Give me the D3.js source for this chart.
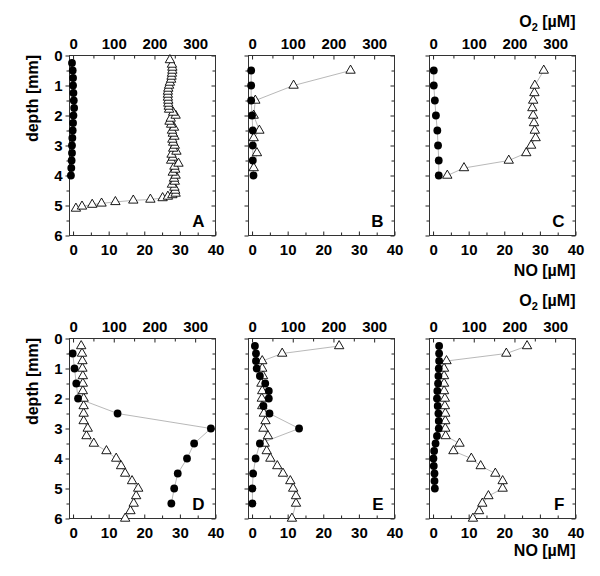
<!DOCTYPE html>
<html>
<head>
<meta charset="utf-8">
<script src="https://cdn.jsdelivr.net/npm/d3@7"></script>
<style>
	body { margin: 0; background: #fff; }
	svg text { font-family: "Liberation Sans", Arial, sans-serif; font-weight: bold; fill: #000; }
</style>
</head>
<body>
<svg id="chart" width="600" height="576"></svg>
<script>
// NO (filled circles, bottom axis) and O2 (open triangles, top axis) depth profiles
const depthA_no = [0.25, 0.5, 0.75, 1, 1.25, 1.5, 1.75, 2, 2.25, 2.5, 2.75, 3, 3.25, 3.5, 3.75, 4];
const noA = [-0.3, -0.1, 0, 0, 0.1, 0.2, 0.3, 0.1, 0, -0.1, -0.2, -0.3, -0.3, -0.4, -0.5, -0.6];
const depthA_o2 = [0.15, 0.3, 0.4, 0.5, 0.6, 0.7, 0.8, 0.9, 1.0, 1.1, 1.2, 1.3, 1.4, 1.5, 1.6, 1.7, 1.8, 1.9, 2.0,
	2.1, 2.2, 2.3, 2.4, 2.5, 2.6, 2.7, 2.8, 2.9, 3.0, 3.1, 3.2, 3.3, 3.4, 3.5, 3.6, 3.7, 3.8, 3.9, 4.0,
	4.1, 4.2, 4.3, 4.4, 4.5, 4.6, 4.65, 4.7, 4.75, 4.8, 4.83, 4.88, 4.93, 4.97, 5.03, 5.1];
const o2A = [238, 243, 244, 244, 243, 242, 241, 238, 236, 234, 233, 233, 233, 234, 234, 235, 236, 246, 252,
	240, 237, 241, 248, 243, 245, 249, 244, 246, 250, 246, 254, 242, 245, 241, 259, 249, 251, 245, 252,
	248, 250, 243, 249, 251, 252, 244, 233, 220, 190, 148, 104, 70, 47, 22, 7];

const depthB_no = [0.5, 1, 1.5, 2, 2.5, 3, 3.5, 4];
const noB = [-0.25, -0.25, -0.25, 0, 0.2, 0.2, 0.2, 0.4];
const depthB_o2 = [0.5, 1, 1.5, 2, 2.5, 2.75, 3.25, 3.75];
const o2B = [242, 102, 8, 4, 18, 4, 12, 4];

const depthC_no = [0.5, 1, 1.5, 2, 2.5, 3, 3.5, 4];
const noC = [0.2, 0.2, 0.5, 0.8, 1.2, 1.4, 1.6, 1.6];
const depthC_o2 = [0.5, 1, 1.25, 1.5, 1.75, 2, 2.25, 2.5, 2.75, 3, 3.25, 3.5, 3.75, 4];
const o2C = [272, 250, 249, 246, 244, 246, 248, 250, 252, 241, 229, 186, 76, 35];

const depthD_no = [0.5, 1, 1.5, 2, 2.5, 3, 3.5, 4, 4.5, 5, 5.5];
const noD = [-0.1, 0.4, 0.9, 1.4, 12.5, 38.7, 34.0, 32.0, 29.4, 28.4, 27.6];
const depthD_o2 = [0.25, 0.5, 0.75, 1, 1.25, 1.5, 1.75, 2, 2.25, 2.5, 2.75, 3, 3.25, 3.5, 3.75, 4,
	4.25, 4.5, 4.75, 5, 5.25, 5.5, 5.75, 6];
const o2D = [20, 22, 23, 23, 24, 24, 24, 26, 26, 26, 26, 36, 33, 51, 82, 106, 118, 128, 145, 160, 155, 149, 141, 128];

const depthE_no = [0.25, 0.5, 0.75, 1, 1.25, 1.5, 1.75, 2, 2.25, 2.5, 3, 3.5, 4, 4.5, 5, 5.5];
const noE = [0.8, 1.1, 1.1, 1.3, 2.2, 3.7, 4.7, 4.7, 3.2, 4.9, 13.2, 2.2, 1.0, 0.3, 0.1, 0.1];
const depthE_o2 = [0.25, 0.5, 0.75, 1, 1.25, 1.5, 1.75, 2, 2.25, 2.5, 2.75, 3, 3.25, 3.5, 3.75, 4,
	4.25, 4.5, 4.75, 5, 5.25, 5.5, 6];
const o2E = [214, 74, 25, 25, 27, 23, 25, 24, 25, 29, 33, 28, 39, 31, 36, 45, 62, 76, 94, 101, 108, 108, 98];

const depthF_no = [0.25, 0.5, 0.75, 1, 1.25, 1.5, 1.75, 2, 2.25, 2.5, 2.75, 3, 3.25, 3.5, 3.75, 4,
	4.25, 4.5, 4.75, 5];
const noF = [1.7, 1.7, 1.7, 1.6, 1.5, 1.4, 1.2, 1.1, 1.3, 1.5, 1.6, 1.6, 1.1, 0.7, 0.3, 0.1, 0.2, 0.4, 0.4, 0.5];
const depthF_o2 = [0.25, 0.5, 0.75, 1, 1.25, 1.5, 1.75, 2, 2.25, 2.5, 2.75, 3, 3.25, 3.5, 3.75, 4,
	4.25, 4.5, 4.75, 5, 5.25, 5.5, 5.75, 6];
const o2F = [231, 180, 33, 27, 27, 27, 27, 29, 29, 30, 30, 30, 31, 65, 50, 94, 117, 153, 171, 171, 136, 121, 113, 98];

const noTicks = [0, 10, 20, 30, 40];
const noMinor = [5, 15, 25, 35];
const o2Ticks = [0, 100, 200, 300];
const o2Minor = [50, 150, 250];
const depthTicks = [0, 1, 2, 3, 4, 5, 6];
const depthMinor = [0.5, 1.5, 2.5, 3.5, 4.5, 5.5];

const zip = (ds, vs) => ds.map((d, i) => ({ d: d, v: vs[i] }));

const panels = [
	{ label: "A", col: 0, row: 0, no: zip(depthA_no, noA), o2: zip(depthA_o2, o2A) },
	{ label: "B", col: 1, row: 0, no: zip(depthB_no, noB), o2: zip(depthB_o2, o2B) },
	{ label: "C", col: 2, row: 0, no: zip(depthC_no, noC), o2: zip(depthC_o2, o2C) },
	{ label: "D", col: 0, row: 1, no: zip(depthD_no, noD), o2: zip(depthD_o2, o2D) },
	{ label: "E", col: 1, row: 1, no: zip(depthE_no, noE), o2: zip(depthE_o2, o2E) },
	{ label: "F", col: 2, row: 1, no: zip(depthF_no, noF), o2: zip(depthF_o2, o2F) }
];

const colLeft = [69.5, 248.5, 429.5];
const rowTop = [55.5, 338.5];
const w = 146, h = 180;
const fontSize = 15;

const svg = d3.select("#chart");

const styleAxis = g => {
	g.select(".domain").remove();
	g.attr("font-family", null).attr("font-size", fontSize);
	g.selectAll(".tick line").attr("stroke", "#222");
};

panels.forEach(p => {
	const xNO = d3.scaleLinear().domain([-1, 40]).range([0, w]);
	const xO2 = d3.scaleLinear().domain([-8.75, 350]).range([0, w]);
	const yScale = d3.scaleLinear().domain([0, 6]).range([0, h]);

	const g = svg.append("g")
		.attr("transform", `translate(${colLeft[p.col]}, ${rowTop[p.row]})`);

	// axes
	g.append("g")
		.attr("transform", `translate(0, ${h})`)
		.call(d3.axisBottom(xNO).tickValues(noTicks).tickSize(-4).tickPadding(9))
		.call(styleAxis);
	g.append("g")
		.attr("transform", `translate(0, ${h})`)
		.call(d3.axisBottom(xNO).tickValues(noMinor).tickSize(-3).tickFormat(""))
		.call(styleAxis);
	g.append("g")
		.call(d3.axisTop(xO2).tickValues(o2Ticks).tickSize(-4).tickPadding(7))
		.call(styleAxis);
	g.append("g")
		.call(d3.axisTop(xO2).tickValues(o2Minor).tickSize(-3).tickFormat(""))
		.call(styleAxis);
	const yAxis = d3.axisLeft(yScale).tickValues(depthTicks).tickSize(4).tickPadding(3)
		.tickFormat(p.col > 0 ? "" : d3.format("d"));
	g.append("g").call(yAxis).call(styleAxis);
	g.append("g")
		.call(d3.axisLeft(yScale).tickValues(depthMinor).tickSize(3).tickFormat(""))
		.call(styleAxis);
	g.append("g")
		.attr("transform", `translate(${w}, 0)`)
		.call(d3.axisRight(yScale).tickValues(depthTicks).tickSize(-4).tickFormat(""))
		.call(styleAxis);
	g.append("g")
		.attr("transform", `translate(${w}, 0)`)
		.call(d3.axisRight(yScale).tickValues(depthMinor).tickSize(-3).tickFormat(""))
		.call(styleAxis);

	g.append("rect")
		.attr("width", w)
		.attr("height", h)
		.attr("fill", "none")
		.attr("stroke", "#333")
		.attr("stroke-width", 1);

	// connecting lines
	const lineO2 = d3.line().x(d => xO2(d.v)).y(d => yScale(d.d));
	const lineNO = d3.line().x(d => xNO(d.v)).y(d => yScale(d.d));
	g.append("path")
		.attr("d", lineO2(p.o2))
		.attr("fill", "none")
		.attr("stroke", "#999")
		.attr("stroke-width", 0.7);
	g.append("path")
		.attr("d", lineNO(p.no))
		.attr("fill", "none")
		.attr("stroke", "#999")
		.attr("stroke-width", 0.7);

	// O2 triangles (deepest drawn first), then NO circles on top
	g.append("g")
		.selectAll("path")
		.data(p.o2.slice().reverse())
		.enter()
		.append("path")
		.attr("transform", d => `translate(${xO2(d.v)}, ${yScale(d.d)})`)
		.attr("d", d3.symbol().type(d3.symbolTriangle).size(38))
		.attr("fill", "#fff")
		.attr("stroke", "#000")
		.attr("stroke-width", 0.9);

	g.append("g")
		.selectAll("circle")
		.data(p.no)
		.enter()
		.append("circle")
		.attr("cx", d => xNO(d.v))
		.attr("cy", d => yScale(d.d))
		.attr("r", 3.9)
		.attr("fill", "#000");

	g.append("text")
		.attr("x", w - 11)
		.attr("y", h - 9)
		.attr("text-anchor", "end")
		.attr("font-size", 17)
		.text(p.label);
});

// axis titles
[[27, 276, 98.5], [306, 556, 381.5]].forEach(([o2y, noy, depthy]) => {
	const t = svg.append("text")
		.attr("x", 575.5)
		.attr("y", o2y)
		.attr("text-anchor", "end")
		.attr("font-size", 16);
	t.append("tspan").text("O");
	t.append("tspan").attr("dy", 4).attr("font-size", 11).text("2");
	t.append("tspan").attr("dy", -4).text(" [µM]");

	svg.append("text")
		.attr("x", 575.5)
		.attr("y", noy)
		.attr("text-anchor", "end")
		.attr("font-size", 16)
		.text("NO [µM]");

	svg.append("text")
		.attr("transform", `translate(38, ${depthy}) rotate(-90)`)
		.attr("text-anchor", "middle")
		.attr("font-size", 16)
		.text("depth [mm]");
});
</script>
</body>
</html>
